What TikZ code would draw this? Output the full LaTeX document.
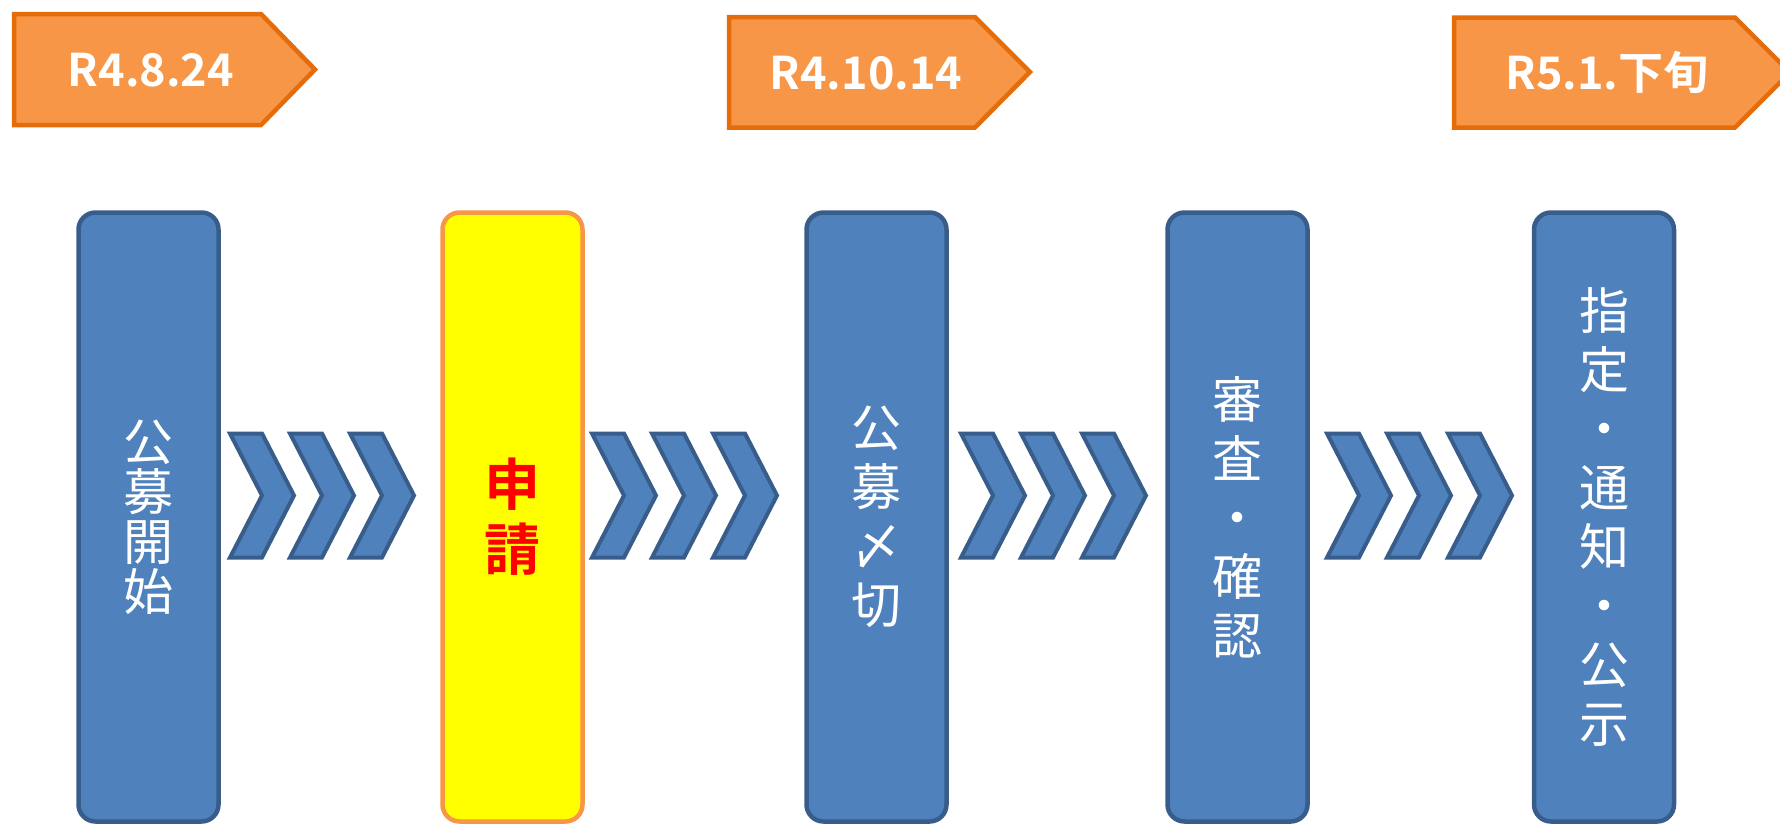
\documentclass[tikz,border=0pt]{standalone}
\usepackage{fontspec}
\setmainfont{Noto Sans CJK JP}[BoldFont={Noto Sans CJK JP Bold}]
\usetikzlibrary{positioning}

\definecolor{stepblue}{HTML}{4F81BD}
\definecolor{stepline}{HTML}{385D8A}
\definecolor{tagfill}{HTML}{F79646}
\definecolor{tagline}{HTML}{E46C0A}
\definecolor{applyfill}{HTML}{FFFF00}
\definecolor{applyline}{HTML}{F79646}

\begin{document}
\begin{tikzpicture}[x=1pt, y=-1pt]
        \tikzset{
            stepbox/.style={draw=stepline, fill=stepblue, line width=4.5pt, rounded corners=17pt, minimum width=140pt, minimum height=609pt, inner sep=0pt, align=center, text=white, font=\fontsize{50}{59}\selectfont}, % the tall blue boxes
            applybox/.style={stepbox, draw=applyline, fill=applyfill, text=red, font=\bfseries\fontsize{56}{65}\selectfont},
            tagshape/.style={draw=tagline, fill=tagfill, line width=4.5pt, line join=miter},
            tagtext/.style={anchor=base, text=white, font=\bfseries\fontsize{45}{54}\selectfont},
            chevron/.style={draw=stepline, fill=stepblue, line width=4pt, line join=miter},
            chev/.pic={\draw[chevron] (0,-62) -- (32,-62) -- (64,0) -- (32,62) -- (0,62) -- (32,0) -- cycle;},
            }
        \useasboundingbox (0,0) rectangle (1780,825);

        % date tags
        \draw[tagshape] (14,14) -- (261,14) -- (315,69.5) -- (261,125) -- (14,125) -- cycle;
        \draw[tagshape] (729,17) -- (975,17) -- (1030,72) -- (975,127.5) -- (729,127.5) -- cycle;
        \draw[tagshape] (1454,17.5) -- (1735,17.5) -- (1790,72.5) -- (1735,127.5) -- (1454,127.5) -- cycle;
        \node[tagtext] (start_date) at (151,86) {R4.8.24};
        \node[tagtext] (deadline_date) at (866,89) {R4.10.14};
        \node[tagtext] (notice_date) at (1607,89) {R5.1.下旬};

        % step boxes
        \node[stepbox, font=\fontsize{50}{50}\selectfont] (start_step) at (148.5,517) {公\\募\\開\\始};
        \node[applybox] (apply_step) at (512.5,517) {申\\請};
        \node[stepbox] (deadline_step) at (876.5,517) {公\\募\\〆\\切};
        \node[stepbox] (review_step) at (1237.5,517) {審\\査\\・\\確\\認};
        \node[stepbox] (notice_step) at (1604,517) {指\\定\\・\\通\\知\\・\\公\\示};

        % chevrons between the steps
        \pic at (230,495.5) {chev};  \pic at (290,495.5) {chev};  \pic at (350,495.5) {chev};
        \pic at (592,495.5) {chev};  \pic at (652,495.5) {chev};  \pic at (713,495.5) {chev};
        \pic at (961,495.5) {chev};  \pic at (1021,495.5) {chev}; \pic at (1082,495.5) {chev};
        \pic at (1327,495.5) {chev}; \pic at (1387,495.5) {chev}; \pic at (1448,495.5) {chev};
    \end{tikzpicture}
\end{document}
